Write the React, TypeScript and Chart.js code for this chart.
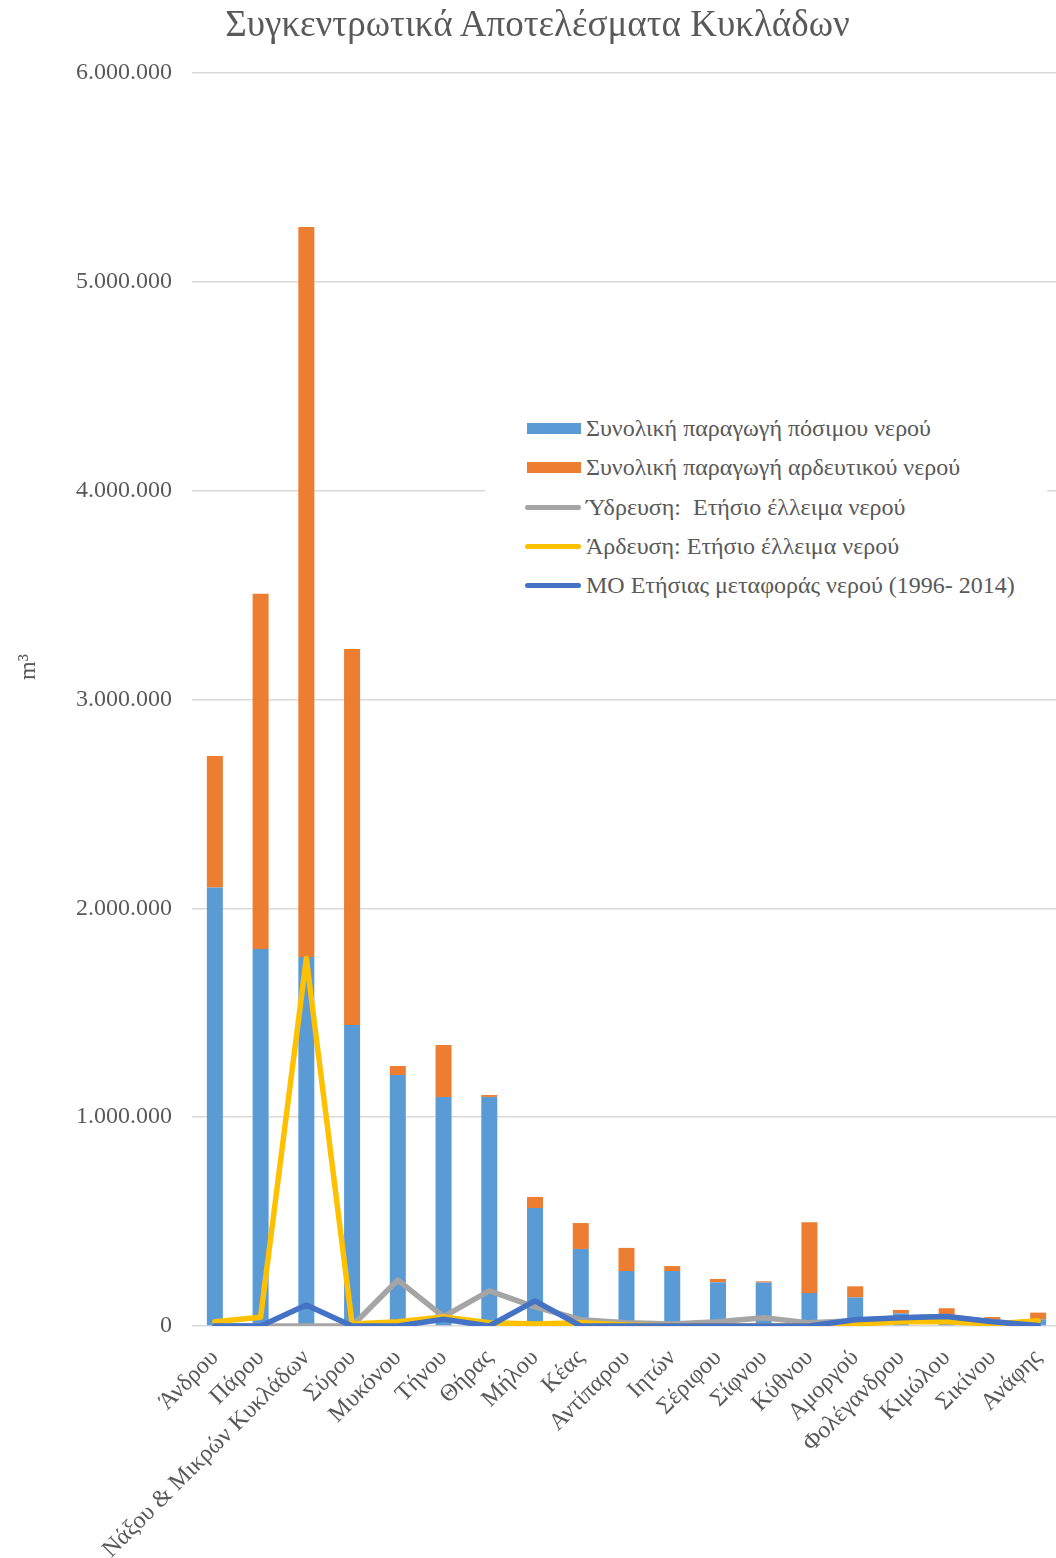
import React, { useEffect, useRef } from 'react';
import { Chart, registerables } from 'chart.js';

Chart.register(...registerables);

const categories = [
  'Άνδρου', 'Πάρου', 'Νάξου & Μικρών Κυκλάδων', 'Σύρου', 'Μυκόνου', 'Τήνου', 'Θήρας',
  'Μήλου', 'Κέας', 'Αντίπαρου', 'Ιητών', 'Σέριφου', 'Σίφνου', 'Κύθνου', 'Αμοργού',
  'Φολέγανδρου', 'Κιμώλου', 'Σικίνου', 'Ανάφης',
];

const potable = [2100000, 1805000, 1767000, 1441000, 1202000, 1097000, 1097000, 565000, 369000, 263000, 263000, 209000, 208000, 158000, 137000, 61000, 45000, 25000, 32000];
const irrigation = [630000, 1701000, 3496000, 1801000, 43000, 249000, 9000, 53000, 124000, 111000, 24000, 16000, 6000, 339000, 53000, 16000, 40000, 18000, 32000];
const waterDeficit = [0, 0, 0, 0, 220000, 45000, 168000, 92000, 30000, 15000, 10000, 20000, 40000, 15000, 25000, 40000, 45000, 20000, 5000];
const irrigationDeficit = [20000, 42000, 1761000, 10000, 20000, 43000, 16000, 10000, 15000, 5000, 0, 0, 0, 0, 10000, 20000, 20000, 10000, 25000];
const transport = [0, 0, 100000, 0, 0, 32000, 0, 120000, 0, 0, 0, 0, 0, 0, 30000, 40000, 45000, 20000, 3000];

const seriesLabels = [
  'Συνολική παραγωγή πόσιμου νερού',
  'Συνολική παραγωγή αρδευτικού νερού',
  'Ύδρευση:  Ετήσιο έλλειμα νερού',
  'Άρδευση: Ετήσιο έλλειμα νερού',
  'ΜΟ Ετήσιας μεταφοράς νερού (1996- 2014)',
];
const seriesColors = ['#5B9BD5', '#ED7D31', '#A5A5A5', '#FFC000', '#4472C4'];
const seriesKinds = ['bar', 'bar', 'line', 'line', 'line'];

const yTicks = [0, 1000000, 2000000, 3000000, 4000000, 5000000, 6000000];
const chartTitle = 'Συγκεντρωτικά Αποτελέσματα Κυκλάδων';
const yAxisTitle = 'm³';

const FONT = '"Liberation Serif", "Times New Roman", serif';
const TEXT = '#595959';

function fmt(v: number) {
  return String(Math.round(v)).replace(/\B(?=(\d{3})+(?!\d))/g, '.');
}

export default function App() {
  const ref = useRef<HTMLCanvasElement>(null);

  useEffect(() => {
    document.body.style.margin = '0';
    const lineBase = { type: 'line' as const, borderWidth: 5.5, pointRadius: 0, fill: false, tension: 0, borderCapStyle: 'round' as const, borderJoinStyle: 'round' as const };
    const chart = new Chart(ref.current!, {
      type: 'bar',
      data: {
        labels: categories,
        datasets: [
          { type: 'bar', label: seriesLabels[0], data: potable, backgroundColor: seriesColors[0], stack: 'prod', order: 5, barPercentage: 0.35, categoryPercentage: 1 },
          { type: 'bar', label: seriesLabels[1], data: irrigation, backgroundColor: seriesColors[1], stack: 'prod', order: 5, barPercentage: 0.35, categoryPercentage: 1 },
          { ...lineBase, label: seriesLabels[2], data: waterDeficit, borderColor: seriesColors[2], backgroundColor: seriesColors[2], stack: 's2', order: 3 },
          { ...lineBase, label: seriesLabels[3], data: irrigationDeficit, borderColor: seriesColors[3], backgroundColor: seriesColors[3], stack: 's3', order: 2 },
          { ...lineBase, label: seriesLabels[4], data: transport, borderColor: seriesColors[4], backgroundColor: seriesColors[4], stack: 's4', order: 1 },
        ] as any,
      },
      options: {
        responsive: false,
        animation: false,
        layout: { padding: { top: 73, left: 0, right: 0, bottom: 0 } },
        plugins: { legend: { display: false }, title: { display: false }, tooltip: { enabled: false } },
        scales: {
          x: {
            stacked: true,
            grid: { display: false },
            border: { display: false },
            ticks: { maxRotation: 45, minRotation: 45, font: { family: FONT, size: 24 }, color: TEXT, padding: 10 },
            afterFit: (s: any) => { s.height = 232; s.paddingLeft = 0; s.paddingRight = 0; },
          },
          y: {
            stacked: true,
            min: 0,
            max: 6000000,
            afterBuildTicks: (s: any) => { s.ticks = yTicks.map((v) => ({ value: v })); },
            ticks: { font: { family: FONT, size: 24 }, color: TEXT, padding: 20, callback: (v: any) => fmt(Number(v)) },
            grid: { color: '#D9D9D9', lineWidth: 1.5, drawTicks: false },
            border: { display: false },
            afterFit: (s: any) => { s.width = 192; },
          },
        },
      } as any,
    });
    return () => chart.destroy();
  }, []);

  const rowY = [428, 467, 507, 546, 585];

  return (
    <div style={{ position: 'relative', width: 1056, height: 1558, overflow: 'hidden', background: '#fff' }}>
      <canvas ref={ref} width={1061} height={1558} style={{ position: 'absolute', left: 0, top: 0, width: 1061, height: 1558 }} />
      <div style={{ position: 'absolute', left: 0, top: 2, width: 1075, textAlign: 'center', fontFamily: FONT, fontSize: 37, lineHeight: '44px', color: TEXT, whiteSpace: 'nowrap' }}>
        {chartTitle}
      </div>
      <div style={{ position: 'absolute', left: 27, top: 667, width: 0, height: 0 }}>
        <div style={{ position: 'absolute', left: -30, top: -14, width: 60, height: 28, lineHeight: '28px', textAlign: 'center', transform: 'rotate(-90deg)', fontFamily: FONT, fontSize: 24, color: TEXT, whiteSpace: 'nowrap' }}>
          {yAxisTitle}
        </div>
      </div>
      <div style={{ position: 'absolute', left: 485, top: 400, width: 562, height: 212, background: '#fff' }} />
      {seriesLabels.map((lab, i) => (
        <div key={i} style={{ position: 'absolute', left: 525, top: rowY[i] - 15, height: 30, display: 'flex', alignItems: 'center', whiteSpace: 'pre' }}>
          {seriesKinds[i] === 'bar' ? (
            <div style={{ width: 54, height: 11, marginLeft: 2, background: seriesColors[i] }} />
          ) : (
            <div style={{ width: 56, height: 5, borderRadius: 3, background: seriesColors[i] }} />
          )}
          <span style={{ marginLeft: 5, fontFamily: FONT, fontSize: 24, lineHeight: '30px', color: TEXT }}>{lab}</span>
        </div>
      ))}
    </div>
  );
}
